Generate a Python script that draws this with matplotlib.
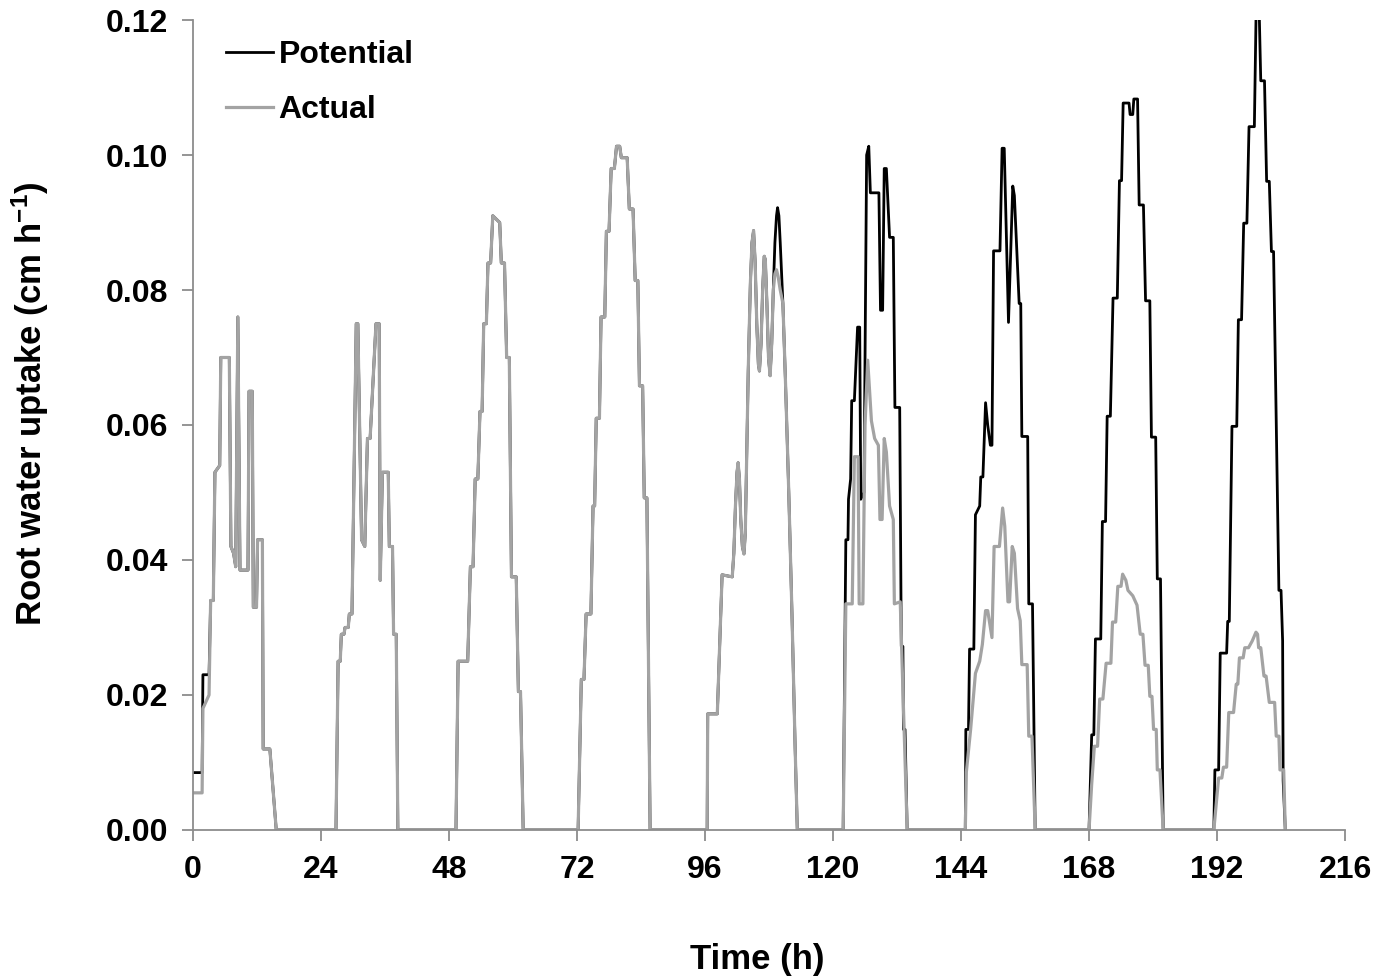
import matplotlib
matplotlib.use('Agg')
import matplotlib.pyplot as plt

# 时间 (h), 根系吸水 (cm/h) —— 每天一段, (t, 值) 折线顶点
day1_pot = [(0, 0.0085), (1.7, 0.0085), (1.85, 0.023), (3.0, 0.023), (3.3, 0.034), (3.8, 0.034),
            (4.1, 0.053), (5.0, 0.054), (5.2, 0.070), (6.8, 0.070), (7.1, 0.042), (7.6, 0.041),
            (8.0, 0.039), (8.4, 0.076), (8.8, 0.0385), (10.3, 0.0385), (10.5, 0.065), (11.1, 0.065),
            (11.3, 0.033), (11.9, 0.033), (12.1, 0.043), (13.0, 0.043), (13.15, 0.012), (14.4, 0.012),
            (15.6, 0.0)]
day1_act = [(0, 0.0055), (1.7, 0.0055), (1.85, 0.018), (3.0, 0.020)] + day1_pot[4:]

day2 = [(26.8, 0.0), (27.2, 0.025), (27.6, 0.025), (27.8, 0.029), (28.3, 0.029), (28.5, 0.030),
        (29.1, 0.030), (29.3, 0.032), (29.8, 0.032), (30.6, 0.075), (30.9, 0.075), (31.6, 0.043),
        (32.2, 0.042), (32.7, 0.058), (33.2, 0.058), (34.3, 0.075), (34.9, 0.075), (35.1, 0.037),
        (35.5, 0.053), (36.6, 0.053), (36.8, 0.042), (37.4, 0.042), (37.6, 0.029), (38.1, 0.029),
        (38.4, 0.0)]

day3 = [(49.3, 0.0), (49.7, 0.025), (51.5, 0.025), (52.0, 0.039), (52.5, 0.039), (52.9, 0.052),
        (53.4, 0.052), (53.8, 0.062), (54.2, 0.062), (54.5, 0.075), (55.0, 0.075), (55.3, 0.084),
        (55.8, 0.084), (56.2, 0.091), (57.5, 0.090), (57.8, 0.084), (58.4, 0.084), (58.8, 0.070),
        (59.3, 0.070), (59.7, 0.0375), (60.6, 0.0375), (61.0, 0.0205), (61.4, 0.0205), (61.9, 0.0)]

day4 = [(72.2, 0.0), (72.8, 0.0223), (73.3, 0.0223), (73.7, 0.032), (74.6, 0.032), (75.0, 0.048),
        (75.3, 0.048), (75.6, 0.061), (76.2, 0.061), (76.5, 0.076), (77.2, 0.076), (77.5, 0.0887),
        (78.0, 0.0887), (78.4, 0.098), (79.0, 0.098), (79.4, 0.1013), (80.0, 0.1013), (80.3, 0.0996),
        (81.4, 0.0996), (81.8, 0.092), (82.5, 0.092), (82.9, 0.0814), (83.4, 0.0814), (83.7, 0.0658),
        (84.3, 0.0658), (84.6, 0.0492), (85.1, 0.0492), (85.7, 0.0)]

day5_rise = [(96.4, 0.0), (96.5, 0.0172), (98.3, 0.0172), (99.2, 0.0378), (101.1, 0.0375),
             (101.4, 0.041), (101.7, 0.048), (102.0, 0.053), (102.2, 0.0544), (102.45, 0.052),
             (102.7, 0.046), (103.0, 0.042), (103.3, 0.0409), (103.55, 0.044), (103.8, 0.055),
             (104.1, 0.068), (104.5, 0.081), (104.8, 0.087), (105.1, 0.0888), (105.4, 0.084),
             (105.7, 0.075), (106.0, 0.069), (106.2, 0.068), (106.5, 0.072), (106.8, 0.080),
             (107.1, 0.085), (107.3, 0.0845), (107.6, 0.078), (107.9, 0.070), (108.2, 0.0673),
             (108.5, 0.072), (108.8, 0.080)]
day5_pot_top = [(109.1, 0.087), (109.4, 0.091), (109.6, 0.0922), (109.85, 0.091), (110.1, 0.087)]
day5_act_top = [(109.1, 0.0824), (109.4, 0.083), (109.7, 0.082), (110.1, 0.080)]
day5_fall = [(110.6, 0.078), (111.1, 0.066), (111.7, 0.050), (112.3, 0.032), (112.9, 0.012),
             (113.3, 0.0)]

day6_pot = [(121.9, 0.0), (122.4, 0.043), (122.8, 0.043), (122.9, 0.049), (123.3, 0.052), (123.5, 0.0636),
            (124.0, 0.0636), (124.6, 0.0745), (125.0, 0.0745), (125.2, 0.049), (125.8, 0.050),
            (126.3, 0.100), (126.7, 0.1013), (127.0, 0.0944), (128.6, 0.0944), (128.9, 0.077),
            (129.3, 0.077), (129.6, 0.098), (130.0, 0.098), (130.6, 0.0878), (131.3, 0.0878),
            (131.6, 0.0626), (132.5, 0.0626), (132.8, 0.0272), (133.1, 0.0272), (133.2, 0.0149),
            (133.5, 0.0149), (133.9, 0.0)]
day6_act = [(121.9, 0.0), (122.4, 0.0335), (123.6, 0.0335), (124.0, 0.0553), (124.7, 0.0553),
            (124.9, 0.0335), (125.6, 0.0335), (126.0, 0.060), (126.5, 0.0696), (127.2, 0.0606),
            (127.8, 0.058), (128.5, 0.057), (128.8, 0.046), (129.2, 0.046), (129.6, 0.058),
            (130.0, 0.056), (130.6, 0.048), (131.3, 0.046), (131.5, 0.0335), (132.6, 0.0338),
            (133.9, 0.0)]

day7_pot = [(144.8, 0.0), (144.9, 0.0149), (145.4, 0.0149), (145.6, 0.0268), (146.4, 0.0268),
            (146.7, 0.0467), (147.5, 0.048), (147.7, 0.0523), (148.1, 0.0523), (148.6, 0.0633),
            (149.0, 0.060), (149.5, 0.057), (149.8, 0.057), (150.1, 0.0858), (151.3, 0.0858),
            (151.7, 0.101), (152.1, 0.101), (152.9, 0.0752), (153.7, 0.0954), (154.0, 0.094),
            (154.9, 0.078), (155.2, 0.078), (155.4, 0.0583), (156.5, 0.0583), (156.7, 0.0335),
            (157.4, 0.0335), (157.9, 0.0)]
day7_act = [(144.8, 0.0), (145.0, 0.0086), (145.8, 0.0149), (146.7, 0.0232), (147.5, 0.025),
            (148.0, 0.0275), (148.6, 0.0325), (149.0, 0.0325), (149.8, 0.0285), (150.2, 0.042),
            (151.2, 0.042), (151.8, 0.0477), (152.2, 0.045), (152.8, 0.0338), (153.1, 0.0338),
            (153.6, 0.042), (154.0, 0.041), (154.6, 0.0328), (155.1, 0.031), (155.4, 0.0245),
            (156.4, 0.0245), (156.7, 0.0139), (157.3, 0.0139), (157.9, 0.0)]

day8_pot = [(168.0, 0.0), (168.5, 0.0141), (168.9, 0.0141), (169.2, 0.0283), (170.2, 0.0283),
            (170.5, 0.0457), (171.1, 0.0457), (171.4, 0.0613), (172.0, 0.0613), (172.5, 0.0788),
            (173.3, 0.0788), (173.7, 0.0962), (174.1, 0.0962), (174.4, 0.1077), (175.5, 0.1077),
            (175.7, 0.106), (176.2, 0.106), (176.4, 0.1083), (177.1, 0.1083), (177.4, 0.0926),
            (178.2, 0.0926), (178.6, 0.0784), (179.4, 0.0784), (179.7, 0.0582), (180.5, 0.0582),
            (180.8, 0.0372), (181.4, 0.0372), (181.9, 0.0)]
day8_act = [(168.0, 0.0), (168.5, 0.0068), (169.0, 0.0124), (169.6, 0.0124), (170.0, 0.0194),
            (170.6, 0.0194), (171.2, 0.0247), (172.1, 0.0247), (172.4, 0.0308), (173.0, 0.0308),
            (173.4, 0.0361), (174.0, 0.0361), (174.3, 0.0379), (174.9, 0.037), (175.3, 0.0355),
            (176.2, 0.0347), (177.0, 0.0333), (177.6, 0.029), (178.1, 0.029), (178.5, 0.0244),
            (179.1, 0.0244), (179.4, 0.0198), (179.8, 0.0198), (180.1, 0.0149), (180.6, 0.0149),
            (180.8, 0.0089), (181.3, 0.0089), (181.9, 0.0)]

day9_pot = [(191.4, 0.0), (191.6, 0.0089), (192.3, 0.0089), (192.6, 0.0262), (193.8, 0.0262),
            (194.0, 0.0309), (194.3, 0.0309), (194.8, 0.0598), (195.7, 0.0598), (196.0, 0.0756),
            (196.6, 0.0756), (197.0, 0.0899), (197.6, 0.0899), (198.0, 0.1042), (199.0, 0.1042),
            (199.4, 0.125), (199.8, 0.125), (200.2, 0.111), (200.9, 0.111), (201.3, 0.0961),
            (201.8, 0.0961), (202.2, 0.0857), (202.6, 0.0857), (203.6, 0.0355), (204.0, 0.0355),
            (204.3, 0.028), (204.4, 0.0073), (204.8, 0.0)]
day9_act = [(191.4, 0.0), (191.8, 0.0035), (192.3, 0.0077), (192.9, 0.0077), (193.2, 0.0093),
            (193.8, 0.0093), (194.2, 0.0174), (195.1, 0.0174), (195.6, 0.0216), (195.9, 0.0216),
            (196.2, 0.0255), (196.9, 0.0255), (197.2, 0.027), (197.9, 0.027), (198.6, 0.028),
            (199.3, 0.0293), (199.6, 0.029), (199.8, 0.027), (200.2, 0.027), (200.8, 0.0228),
            (201.2, 0.0228), (201.8, 0.0189), (202.8, 0.0189), (203.1, 0.0139), (203.6, 0.0139),
            (203.8, 0.0089), (204.5, 0.0089), (204.8, 0.0)]

day5_pot = day5_rise + day5_pot_top + day5_fall
day5_act = day5_rise + day5_act_top + day5_fall

potential = day1_pot + day2 + day3 + day4 + day5_pot + day6_pot + day7_pot + day8_pot + day9_pot
actual = day1_act + day2 + day3 + day4 + day5_act + day6_act + day7_act + day8_act + day9_act

x_ticks = list(range(0, 217, 24))
y_ticks = [0.00, 0.02, 0.04, 0.06, 0.08, 0.10, 0.12]

plt.rcParams['font.family'] = ['Liberation Sans', 'DejaVu Sans']
plt.rcParams['font.weight'] = 'bold'
plt.rcParams['mathtext.fontset'] = 'custom'
plt.rcParams['mathtext.rm'] = 'Liberation Sans:bold'
plt.rcParams['mathtext.bf'] = 'Liberation Sans:bold'
plt.rcParams['mathtext.default'] = 'bf'

fig = plt.figure(figsize=(13.75, 9.77), dpi=100)
ax = fig.add_axes([0.1404, 0.1505, 0.8378, 0.829])

pt, pv = zip(*potential)
at, av = zip(*actual)
ax.plot(pt, pv, color='black', lw=2.0, label='Potential')
ax.plot(at, av, color='#a3a3a3', lw=2.3, label='Actual')

ax.set_xlim(0, 216)
ax.set_ylim(0, 0.12)
ax.set_xticks(x_ticks)
ax.set_yticks(y_ticks)
ax.set_yticklabels(['%.2f' % v for v in y_ticks])

for s in ['top', 'right']:
    ax.spines[s].set_visible(False)
for s in ['left', 'bottom']:
    ax.spines[s].set_color('#8c8c8c')
    ax.spines[s].set_linewidth(1.3)
ax.tick_params(direction='out', length=8, width=1.3, color='#8c8c8c', labelsize=23, pad=10)

ax.set_xlabel('Time (h)', fontsize=25, fontweight='bold')
ax.set_ylabel(r'Root water uptake (cm h$^{-1}$)', fontsize=25, fontweight='bold')
ax.xaxis.set_label_coords(0.4896, -0.139)
ax.yaxis.set_label_coords(-0.123, 0.526)

ax.legend(loc='upper left', bbox_to_anchor=(0.004, 1.011), frameon=False, fontsize=23,
          handlelength=1.47, handletextpad=0.16, labelspacing=0.8)

plt.savefig('out.png', dpi=100)
